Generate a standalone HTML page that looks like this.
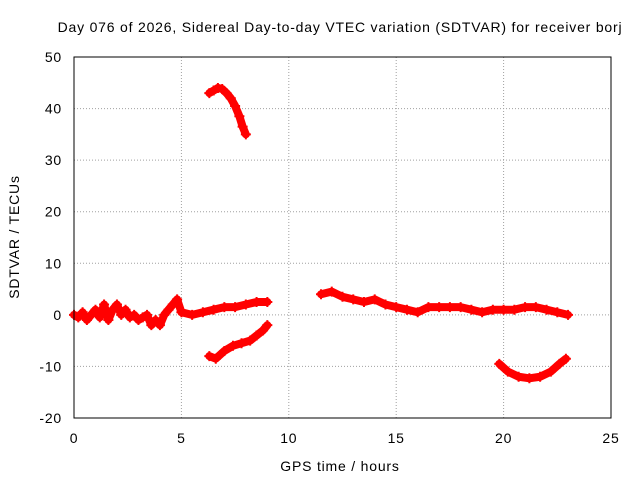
<!DOCTYPE html>
<html><head><meta charset="utf-8"><style>
body{margin:0;background:#fff;}
svg text{font-family:"Liberation Sans",sans-serif;font-size:14px;letter-spacing:0.8px;fill:#000;}
</style></head><body>
<svg id="chart" width="640" height="480" xmlns="http://www.w3.org/2000/svg">
<rect width="640" height="480" fill="#fff"/>
<text x="340" y="32" text-anchor="middle">Day 076 of 2026, Sidereal Day-to-day VTEC variation (SDTVAR) for receiver borj</text>
<text x="340" y="471" text-anchor="middle">GPS time / hours</text>
<text transform="translate(19,237) rotate(-90)" text-anchor="middle">SDTVAR / TECUs</text>
<g id="grid"></g>
<g id="ticks"></g>
<g id="series"></g>
<rect x="74" y="57" width="537" height="361" fill="none" stroke="#000" stroke-width="1"/>
</svg>
<script>
const xTicks=[0,5,10,15,20,25];
const yTicks=[-20,-10,0,10,20,30,40,50];
const seg1X=[6.3,6.5,6.7,6.9,7.1,7.3,7.5,7.7,7.85,8.0];
const seg1Y=[43,43.5,44,43.8,43,42,40.5,38.5,36.5,35];
const seg2X=[0,0.2,0.4,0.6,0.8,1.0,1.2,1.4,1.6,1.8,2.0,2.2,2.4,2.6,2.8,3.0,3.2,3.4,3.6,3.8,4.0,4.2,4.4,4.6,4.8,5.0,5.5,6,6.5,7,7.5,8,8.5,9];
const seg2Y=[0,-0.5,0.5,-1,0,1,-0.5,2,-1,1,2,0,1,-0.5,0,-1,-0.5,0,-2,-1,-2,0,1,2,3,0.5,0,0.5,1,1.5,1.5,2,2.5,2.5];
const seg3X=[6.3,6.6,7,7.4,7.8,8.2,8.5,8.8,9];
const seg3Y=[-8,-8.5,-7,-6,-5.5,-5,-4,-3,-2];
const seg4X=[11.5,12,12.5,13,13.5,14,14.5,15,15.5,16,16.5,17,17.5,18,18.5,19,19.5,20,20.5,21,21.5,22,22.5,23];
const seg4Y=[4,4.5,3.5,3,2.5,3,2,1.5,1,0.5,1.5,1.5,1.5,1.5,1,0.5,1,1,1,1.5,1.5,1,0.5,0];
const seg5X=[19.8,20.2,20.7,21.2,21.7,22.2,22.6,22.9];
const seg5Y=[-9.5,-11,-12,-12.3,-12,-11,-9.5,-8.5];
const NS="http://www.w3.org/2000/svg";
const X=v=>74+v*(537/25), Y=v=>57+(50-v)*(361/70);
function mk(t,a,p){const e=document.createElementNS(NS,t);for(const k in a)e.setAttribute(k,a[k]);p.appendChild(e);return e;}
const g=document.getElementById('grid'),tk=document.getElementById('ticks'),s=document.getElementById('series');
xTicks.forEach(v=>{
 if(v>0&&v<25){const l=mk('line',{x1:X(v),x2:X(v),y1:57,y2:418,stroke:'#a0a0a0','stroke-dasharray':'1,2'},g);
 
 }
 const t=mk('text',{x:X(v),y:443,'text-anchor':'middle'},tk);t.textContent=v;
 
 
});
yTicks.forEach(v=>{
 if(v>-20&&v<50){const l=mk('line',{x1:74,x2:611,y1:Y(v),y2:Y(v),stroke:'#a0a0a0','stroke-dasharray':'1,2'},g);
 
 }
 const t=mk('text',{x:62,y:Y(v)+5,'text-anchor':'end'},tk);t.textContent=v;
 
 
});
[[seg1X,seg1Y],[seg2X,seg2Y],[seg3X,seg3Y],[seg4X,seg4Y],[seg5X,seg5Y]].forEach((sg,i)=>{
 const pts=sg[0].map((x,j)=>X(x)+','+Y(sg[1][j])).join(' ');
 const p=mk('polyline',{points:pts,fill:'none',stroke:'#f00','stroke-width':8,'stroke-linejoin':'round','stroke-linecap':'round'},s);
 
 
 sg[0].forEach((x,j)=>{
  const cx=X(x),cy=Y(sg[1][j]);
  const m=mk('path',{d:`M${cx-5},${cy}H${cx+5}M${cx},${cy-5}V${cy+5}`,stroke:'#f00','stroke-width':2},s);
  
  
 });
});
</script>
</body></html>
